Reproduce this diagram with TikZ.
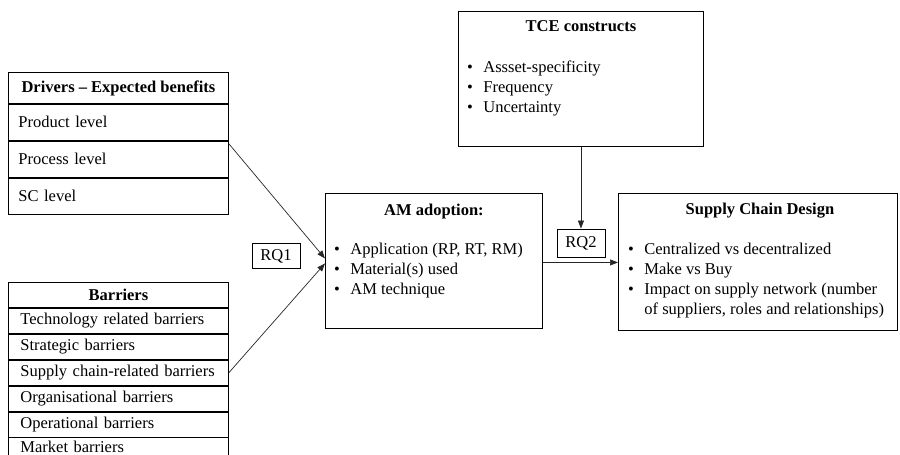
\documentclass[tikz,border=0pt]{standalone}
\usepackage{fontspec}
\setmainfont{Liberation Serif}
\usetikzlibrary{positioning, arrows.meta}

\newcommand{\itemlist}[1]{\begin{tabular}[t]{@{}l@{\hspace{10.4pt}}l@{}}#1\end{tabular}}

\begin{document}
\begin{tikzpicture}[x=1pt, y=-1pt, font=\fontsize{16.5}{20}\selectfont,
  box/.style={draw, line width=0.9pt, inner sep=0pt},
  hdr/.style={box, minimum width=220pt, align=center},
  drow/.style={box, minimum width=220pt, minimum height=36pt, text width=200pt, inner xsep=10pt, align=left},
  brow/.style={box, minimum width=220pt, minimum height=25pt, text width=196pt, inner xsep=12pt, align=left},
  rq/.style={box, minimum width=48pt},
  txt/.style={inner sep=0pt},
  link/.style={line width=0.7pt, black!85, -{Triangle[length=8pt, width=6pt]}}]
\useasboundingbox (0,0) rectangle (900,455);

% Drivers table
\node[hdr, minimum height=31pt, anchor=north west] (drv) at (8,72) {\bfseries Drivers -- Expected benefits};
\node[drow, below=0pt of drv] (prod) {Product level};
\node[drow, below=0pt of prod] (proc) {Process level};
\node[drow, below=0pt of proc] (sclev) {SC level};

% Barriers table
\node[hdr, minimum height=25pt, anchor=north west] (bar) at (8,282) {\bfseries Barriers};
\node[brow, below=0pt of bar] (tech) {Technology related barriers};
\node[brow, below=0pt of tech] (strat) {Strategic barriers};
\node[brow, below=0pt of strat] (supply) {Supply chain-related barriers};
\node[brow, below=0pt of supply] (org) {Organisational barriers};
\node[brow, below=0pt of org] (oper) {Operational barriers};
% last row runs off the bottom edge
\node[brow, draw=none, below=0pt of oper, minimum height=19pt] (market) {Market barriers};
\draw[line width=0.9pt] (market.north west) -- ++(0,25) (market.north east) -- ++(0,25);

% AM adoption
\node[box, minimum width=217pt, minimum height=135pt, anchor=north west] (am) at (325,193) {};
\node[txt, anchor=base] (amtitle) at ([yshift=-22pt]am.north) {\bfseries AM adoption:};
\node[txt, anchor=base west] (amlist) at ([xshift=9pt, yshift=-61pt]am.north west)
  {\itemlist{\textbullet & Application (RP, RT, RM)\\ \textbullet & Material(s) used\\ \textbullet & AM technique}};

% TCE constructs
\node[box, minimum width=245pt, minimum height=135pt, anchor=north west] (tce) at (458,11) {};
\node[txt, anchor=base] (tcetitle) at ([yshift=-20pt]tce.north) {\bfseries TCE constructs};
\node[txt, anchor=base west] (tcelist) at ([xshift=9pt, yshift=-61pt]tce.north west)
  {\itemlist{\textbullet & Assset-specificity\\ \textbullet & Frequency\\ \textbullet & Uncertainty}};

% Supply chain design
\node[box, minimum width=279pt, minimum height=137pt, anchor=north west] (scd) at (618,193) {};
\node[txt, anchor=base] (scdtitle) at ([xshift=2pt, yshift=-21pt]scd.north) {\bfseries Supply Chain Design};
\node[txt, anchor=base west] (scdlist) at ([xshift=10pt, yshift=-61pt]scd.north west)
  {\itemlist{\textbullet & Centralized vs decentralized\\ \textbullet & Make vs Buy\\ \textbullet & Impact on supply network (number\\ & of suppliers, roles and relationships)}};

% research questions
\node[rq, minimum height=25pt] (rq1) at (276,256) {RQ1};
\node[rq, minimum height=28pt] (rq2) at (581,243) {RQ2};

\draw[link] ([yshift=-3pt]proc.north east) -- ([yshift=2.5pt]am.west);
\draw[link] (supply.east) -- ([yshift=-2.5pt]am.west);
\draw[link] ([yshift=-1.5pt]am.east) -- ([yshift=-1.5pt]am.east -| scd.west);
\draw[link] (tce.south) -- (tce.south |- rq2.north);
\end{tikzpicture}
\end{document}
